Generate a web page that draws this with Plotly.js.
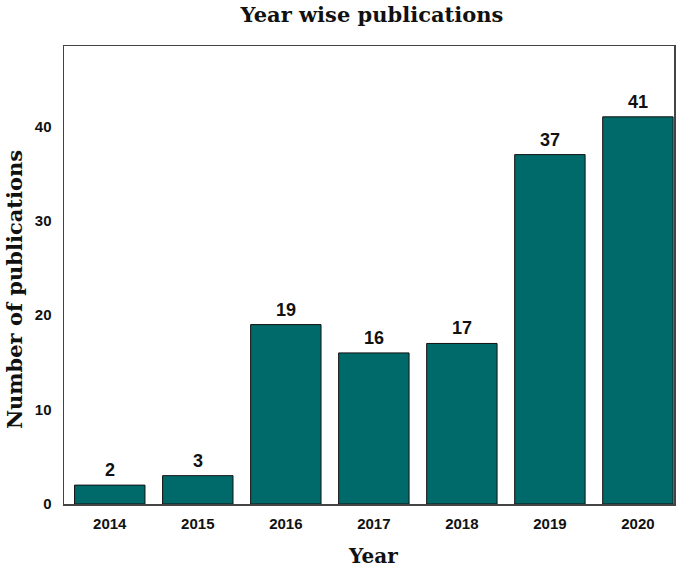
<!DOCTYPE html>
<html>
<head>
<meta charset="utf-8">
<script src="https://cdn.plot.ly/plotly-3.0.1.min.js"></script>
<style>html,body{margin:0;padding:0;background:#fff;}#chart{width:685px;height:567px;}</style>
</head>
<body>
<div id="chart"></div>
<script>
const years = ["2014", "2015", "2016", "2017", "2018", "2019", "2020"];
const publications = [2, 3, 19, 16, 17, 37, 41];
const yTicks = [0, 10, 20, 30, 40];

const serif = '"DejaVu Serif", serif';
const sans = '"Liberation Sans", Arial, sans-serif';

const trace = {
  type: 'bar',
  x: years,
  y: publications,
  marker: {color: '#006a6a', line: {color: '#111', width: 1}},
  width: 0.8,
  hoverinfo: 'skip'
};

const labels = years.map((yr, i) => ({
  x: i, y: publications[i], xref: 'x', yref: 'y',
  text: String(publications[i]), showarrow: false,
  yanchor: 'bottom', yshift: 3,
  font: {family: sans, size: 18, color: '#111', weight: 'bold'}
}));

const axisTitles = [
  {text: 'Year', xref: 'paper', yref: 'paper', x: 0.507, y: 0, yshift: -52,
   xanchor: 'center', yanchor: 'middle', showarrow: false,
   font: {family: serif, size: 20, color: '#111', weight: 'bold'}},
  {text: 'Number of publications', xref: 'paper', yref: 'paper', x: 0, y: 0.467, xshift: -50,
   xanchor: 'center', yanchor: 'middle', textangle: -90, showarrow: false,
   font: {family: serif, size: 21, color: '#111', weight: 'bold'}}
];

const layout = {
  width: 685, height: 567,
  margin: {l: 64, r: 11, t: 46, b: 63},
  paper_bgcolor: '#fff', plot_bgcolor: '#fff',
  showlegend: false,
  annotations: labels.concat(axisTitles),
  title: {text: 'Year wise publications', font: {family: serif, size: 21, color: '#111', weight: 'bold'},
          x: 0.543, xanchor: 'center', y: 0.975, yanchor: 'middle'},
  xaxis: {
    type: 'category', range: [-0.52, 6.41],
    showline: true, linecolor: '#444', linewidth: 1.5, mirror: true,
    showgrid: false, zeroline: false,
    ticks: 'outside', ticklen: 5, tickcolor: 'rgba(0,0,0,0)',
    tickfont: {family: sans, size: 15, color: '#111', weight: 'bold'}
  },
  yaxis: {
    range: [0, 48.5],
    tickvals: yTicks, ticktext: yTicks.map(String),
    showline: true, linecolor: '#444', linewidth: 1.5, mirror: true,
    showgrid: false, zeroline: false,
    ticks: 'outside', ticklen: 8, tickcolor: 'rgba(0,0,0,0)',
    tickfont: {family: sans, size: 15, color: '#111', weight: 'bold'}
  },
  bargap: 0.2
};

Plotly.newPlot('chart', [trace], layout, {displayModeBar: false, staticPlot: true});
</script>
</body>
</html>
